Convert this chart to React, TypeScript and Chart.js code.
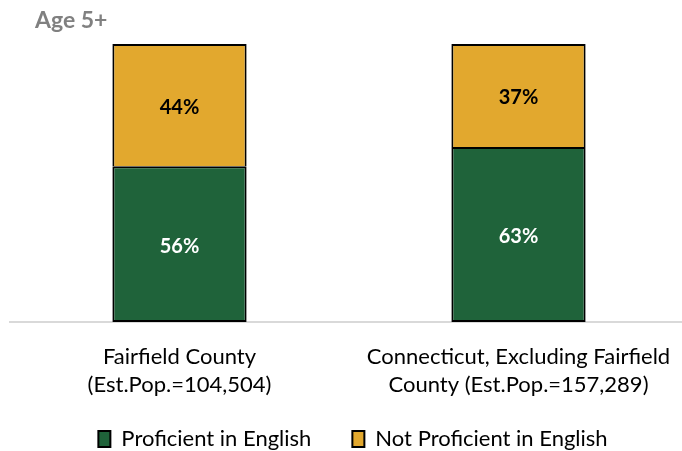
import React, { useEffect, useRef } from "react";
import { Chart, registerables } from "chart.js";

Chart.register(...registerables);

const categories: string[][] = [
  ["Fairfield County", "(Est.Pop.=104,504)"],
  ["Connecticut, Excluding Fairfield", "County (Est.Pop.=157,289)"],
];
const proficient: number[] = [56, 63];
const notProficient: number[] = [44, 37];
const seriesNames: string[] = ["Proficient in English", "Not Proficient in English"];
const titleText = "Age 5+";

const FONT = "Lato, 'Open Sans', sans-serif";
const CANVAS_W = 688;
const CANVAS_H = 451;

const labelPlugin = {
  id: "barLabels",
  afterDatasetsDraw(chart: any) {
    const ctx = chart.ctx;
    ctx.save();
    ctx.font = `bold 20px ${FONT}`;
    ctx.textAlign = "center";
    ctx.textBaseline = "middle";
    chart.data.datasets.forEach((ds: any, di: number) => {
      const meta = chart.getDatasetMeta(di);
      meta.data.forEach((bar: any, i: number) => {
        const y = (bar.y + bar.base) / 2 + 2;
        ctx.fillStyle = di === 0 ? "#ffffff" : "#000000";
        ctx.fillText(ds.data[i] + "%", bar.x, y);
      });
    });
    ctx.restore();
  },
};

const titlePlugin = {
  id: "leftTitle",
  afterDraw(chart: any) {
    const ctx = chart.ctx;
    ctx.save();
    ctx.font = `bold 23px ${FONT}`;
    ctx.fillStyle = "#808080";
    ctx.textAlign = "left";
    ctx.textBaseline = "middle";
    ctx.fillText(titleText, 35, 21);
    ctx.restore();
  },
};

// nudges the legend block horizontally to sit where the reference centres it
const legendShift = {
  id: "legendShift",
  afterLayout(chart: any) {
    const lg = chart.legend;
    if (lg) {
      lg.left += 4;
      lg.right += 4;
    }
  },
};

export default function App() {
  const ref = useRef<HTMLCanvasElement>(null);
  useEffect(() => {
    const chart = new Chart(ref.current!, {
      type: "bar",
      data: {
        labels: categories,
        datasets: [
          {
            label: seriesNames[0],
            data: proficient,
            backgroundColor: "#1f633a",
            borderColor: "#000000",
            borderWidth: 2,
            borderSkipped: false,
          },
          {
            label: seriesNames[1],
            data: notProficient,
            backgroundColor: "#e2a82e",
            borderColor: "#000000",
            borderWidth: 2,
            borderSkipped: "bottom",
          },
        ],
      },
      options: {
        animation: false,
        responsive: false,
        maintainAspectRatio: false,
        layout: { padding: { left: 10, right: 0, top: 44, bottom: -9 } },
        datasets: { bar: { categoryPercentage: 1, barPercentage: 0.396 } },
        scales: {
          x: {
            stacked: true,
            grid: { display: false, drawTicks: false },
            border: { display: true, color: "#d9d9d9", width: 2 },
            ticks: {
              color: "#000000",
              font: { family: FONT, size: 22, lineHeight: 1.27 },
              padding: 21,
              maxRotation: 0,
              autoSkip: false,
            },
            afterFit(scale: any) {
              scale.paddingLeft = 0;
              scale.paddingRight = 0;
            },
          },
          y: {
            stacked: true,
            display: false,
            min: 0,
            max: 100,
          },
        },
        plugins: {
          legend: {
            position: "bottom",
            labels: {
              boxWidth: 12,
              boxHeight: 16,
              padding: 8,
              color: "#000000",
              font: { family: FONT, size: 22 },
              generateLabels(chart: any) {
                const items = Chart.defaults.plugins.legend.labels.generateLabels(chart);
                if (items[0]) items[0].text = items[0].text + "\u2003\u2002\u2009\u2009";
                return items;
              },
            },
          },
          tooltip: { enabled: false },
          title: { display: false },
        },
      },
      plugins: [labelPlugin, titlePlugin, legendShift],
    });
    return () => chart.destroy();
  }, []);
  return (
    <div style={{ position: "fixed", left: 0, top: 0, width: 682, height: 451, background: "#fff", overflow: "hidden" }}>
      <canvas ref={ref} width={CANVAS_W} height={CANVAS_H} style={{ width: CANVAS_W, height: CANVAS_H }} />
    </div>
  );
}
